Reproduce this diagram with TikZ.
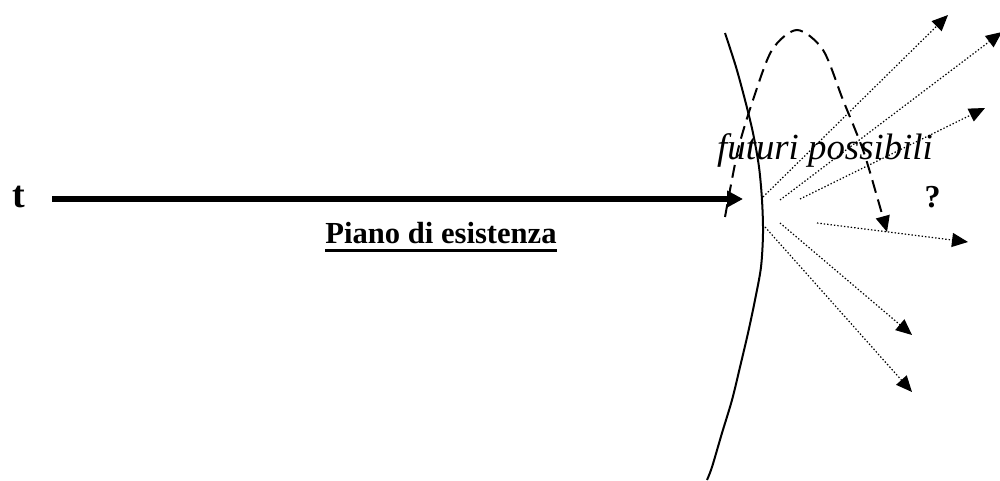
\documentclass[tikz,border=0pt]{standalone}
\usepackage{fontspec}
\setmainfont{Liberation Serif}
\usetikzlibrary{arrows.meta}

\tikzset{
  futuro/.style={line width=0.6pt, dash pattern=on 0.7pt off 1pt, -{Triangle[length=8pt,width=7pt]}},
}

\begin{document}
\begin{tikzpicture}[x=0.5pt, y=-0.5pt, >={Triangle[length=8pt,width=7pt]}, every node/.style={inner sep=0pt}]
	\useasboundingbox (0,0) rectangle (1000,481);
	
	% 1. asse del tempo
	\node[anchor=base, font=\fontsize{19}{19}\selectfont\bfseries] (lblT) at (18.5,207) {t};
	\coordinate (tStart) at (52,199);
	\coordinate (tEnd) at (743,199);
	\draw[line width=3pt, -{Triangle[length=8pt,width=8pt]}] (tStart) -- (tEnd);
	
	% 2. etichetta sottolineata
	\node[anchor=base, font=\fontsize{15.3}{15.3}\selectfont\bfseries] (piano) at (441,243) {Piano di esistenza};
	\draw[line width=1.5pt] ([yshift=-3.7pt]piano.base west) -- ([yshift=-3.7pt]piano.base east);
	
	% 3. piano (curva continua)
	\draw[line width=1pt] plot[smooth] coordinates {(725,33) (736,67) (745,100) (753,133) (759,167) (762,200) (763,233) (761,267) (755,300) (748,333) (740,367) (732,400) (722,433) (712,467) (707,480)};
	
	% 4. curva tratteggiata
	\draw[line width=1pt, dash pattern=on 6.5pt off 3.5pt, ->] plot[smooth] coordinates {(725,217) (738,150) (753,100) (772,50) (797,30) (823,50) (843,100) (863,150) (878,200) (887,232)};
	
	% 5. futuri possibili
	\coordinate (s1) at (763,197); \coordinate (e1) at (948,15);
	\coordinate (s2) at (780,200); \coordinate (e2) at (1002,32);
	\coordinate (s3) at (800,199); \coordinate (e3) at (985,108);
	\coordinate (s4) at (817,223); \coordinate (e4) at (968,242);
	\coordinate (s5) at (780,223); \coordinate (e5) at (912,335);
	\coordinate (s6) at (765,227); \coordinate (e6) at (912,392);
	\draw[futuro] (s1) -- (e1);
	\draw[futuro] (s2) -- (e2);
	\draw[futuro] (s3) -- (e3);
	\draw[futuro] (s4) -- (e4);
	\draw[futuro] (s5) -- (e5);
	\draw[futuro] (s6) -- (e6);
	
	\node[anchor=base, font=\fontsize{18.4}{18.4}\selectfont\itshape] (futuri) at (825,159) {futuri possibili};
	\node[anchor=base, font=\fontsize{16}{16}\selectfont\bfseries] (domanda) at (932.5,207) {?};
\end{tikzpicture}
\end{document}
